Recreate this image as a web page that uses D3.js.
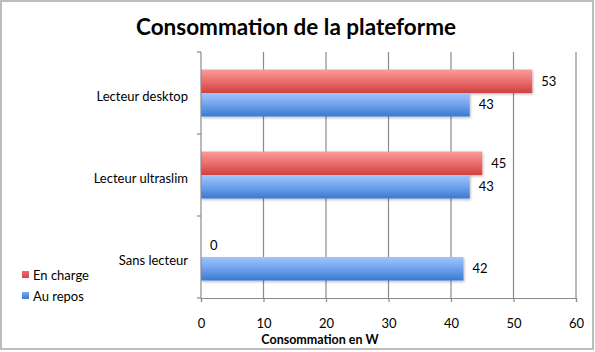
<!DOCTYPE html>
<html>
<head>
<meta charset="utf-8">
<script src="https://cdn.jsdelivr.net/npm/d3@7"></script>
<style>
  body { margin: 0; background: #fff; }
  svg { display: block; font-family: Lato, "Open Sans", sans-serif; }
</style>
</head>
<body>
<div id="chart"></div>
<script>
// chart values
const categories = ["Lecteur desktop", "Lecteur ultraslim", "Sans lecteur"];
const seriesNames = ["En charge", "Au repos"];
const enCharge = [53, 45, 0];
const auRepos = [43, 43, 42];
const xTicks = [0, 10, 20, 30, 40, 50, 60];

const W = 595, H = 352;
const margin = { top: 52, right: 19, bottom: 54, left: 201 };
const pw = W - margin.left - margin.right;
const ph = H - margin.top - margin.bottom;

const svg = d3.select("#chart").append("svg").attr("width", W).attr("height", H);

const defs = svg.append("defs");
function grad(id, stops) {
  const g = defs.append("linearGradient").attr("id", id)
    .attr("x1", 0).attr("y1", 0).attr("x2", 0).attr("y2", 1);
  stops.forEach(s => g.append("stop").attr("offset", s[0]).attr("stop-color", s[1]));
}
grad("gRed", [[0, "#fb9b9b"], [0.5, "#ea6e6e"], [1, "#cf4040"]]);
grad("gBlue", [[0, "#a0c6fb"], [0.5, "#6fa2ec"], [1, "#3b78d2"]]);
grad("lRed", [[0, "#f26a6a"], [1, "#d24848"]]);
grad("lBlue", [[0, "#7aabf2"], [1, "#3f7ad0"]]);

const shadow = defs.append("filter").attr("id", "shadow")
  .attr("x", "-5%").attr("y", "-20%").attr("width", "115%").attr("height", "160%");
shadow.append("feDropShadow").attr("dx", 1).attr("dy", 1.5).attr("stdDeviation", 1)
  .attr("flood-color", "#000").attr("flood-opacity", 0.25);

// frame
svg.append("rect").attr("x", 1).attr("y", 1).attr("width", W - 3).attr("height", H - 4)
  .attr("fill", "#fff").attr("stroke", "#bcbcbc").attr("stroke-width", 2);

// title
svg.append("text").attr("x", 296).attr("y", 35).attr("text-anchor", "middle")
  .attr("font-size", 22.5).attr("font-weight", "bold").attr("fill", "#000")
  .text("Consommation de la plateforme");

const g = svg.append("g").attr("transform", `translate(${margin.left},${margin.top})`);

const x = d3.scaleLinear().domain([0, 60]).range([0, pw]);
const y = d3.scaleBand().domain(categories).range([0, ph]);
const ySub = d3.scaleBand().domain(seriesNames).range([0, y.bandwidth()]).paddingOuter(0.745);

// gridlines
g.append("g").selectAll("line").data(xTicks.slice(1)).join("line")
  .attr("x1", d => x(d)).attr("x2", d => x(d)).attr("y1", 0).attr("y2", ph)
  .attr("stroke", "#8a8a8a").attr("stroke-width", 1.2);

// bars
const rows = categories.map((c, i) => ({ cat: c, vals: [enCharge[i], auRepos[i]] }));
const fills = ["url(#gRed)", "url(#gBlue)"];
const grp = g.append("g").selectAll("g").data(rows).join("g")
  .attr("transform", d => `translate(0,${y(d.cat)})`);
grp.selectAll("rect").data(d => d.vals.map((v, k) => ({ v, k })).filter(e => e.v > 0)).join("rect")
  .attr("x", 0).attr("y", e => ySub(seriesNames[e.k]))
  .attr("width", e => x(e.v)).attr("height", ySub.bandwidth())
  .attr("fill", e => fills[e.k]).attr("filter", "url(#shadow)");
grp.selectAll("text").data(d => d.vals.map((v, k) => ({ v, k }))).join("text")
  .attr("x", e => x(e.v) + 9).attr("y", e => ySub(seriesNames[e.k]) + ySub.bandwidth() / 2)
  .attr("dy", "0.35em").attr("font-size", 13).attr("fill", "#000")
  .text(e => e.v);

// y axis
const yAxis = g.append("g");
yAxis.append("line").attr("x1", 0).attr("x2", 0).attr("y1", 0).attr("y2", ph)
  .attr("stroke", "#8a8a8a").attr("stroke-width", 1.2);
yAxis.selectAll("line.tk").data(d3.range(categories.length + 1)).join("line").attr("class", "tk")
  .attr("x1", -4).attr("x2", 0).attr("y1", i => i * y.step()).attr("y2", i => i * y.step())
  .attr("stroke", "#8a8a8a").attr("stroke-width", 1.2);
yAxis.selectAll("text").data(categories).join("text")
  .attr("x", -13).attr("y", d => y(d) + y.bandwidth() / 2 + 3)
  .attr("dy", "0.35em").attr("text-anchor", "end").attr("font-size", 13).attr("fill", "#000")
  .text(d => d);

// x axis
const xAxis = g.append("g").attr("transform", `translate(0,${ph})`)
  .call(d3.axisBottom(x).tickValues(xTicks).tickSize(4).tickPadding(17));
xAxis.select(".domain").attr("stroke", "#8a8a8a").attr("stroke-width", 1.2);
xAxis.selectAll(".tick line").attr("stroke", "#8a8a8a").attr("stroke-width", 1.2);
xAxis.selectAll(".tick text").attr("font-size", 13).attr("font-family", "Lato, sans-serif").attr("fill", "#000");

svg.append("text").attr("x", 320).attr("y", 344).attr("text-anchor", "middle")
  .attr("font-size", 12.5).attr("font-weight", "bold").attr("fill", "#000")
  .text("Consommation en W");

// legend
const legend = svg.append("g").attr("transform", "translate(22,271)");
const lfills = ["url(#lRed)", "url(#lBlue)"];
seriesNames.forEach((s, i) => {
  const row = legend.append("g").attr("transform", `translate(0,${i * 21})`);
  row.append("rect").attr("width", 7).attr("height", 7).attr("fill", lfills[i]);
  row.append("text").attr("x", 11).attr("y", 4).attr("dy", "0.35em")
    .attr("font-size", 13).attr("fill", "#000").text(s);
});
</script>
</body>
</html>
